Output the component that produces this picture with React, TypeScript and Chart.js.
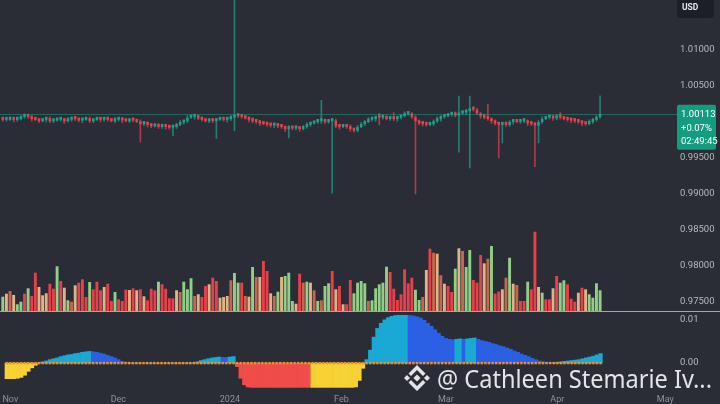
import React, { useEffect, useRef } from 'react';
import { Chart, registerables } from 'chart.js';

Chart.register(...registerables);

// ---------------- data ----------------
const START_DATE = '2023-10-31';
const AXIS_ORIGIN = '2023-11-01';

const firstOpen = 1.0004;
const closes = [
  1.0003, 1.0003, 1.0004, 1.0003, 1.0004, 1.0007, 1.0008, 1.0007, 1.0004, 1.0003,
  1.0001, 1.0003, 1.0004, 1.0001, 1.0002, 1.0003, 1.0004, 1.0001, 1.0003, 1.0005,
  1.0004, 1.0002, 1.0003, 1.0004, 1.0001, 1.0003, 1.0004, 1.0003, 1.0005, 1.0003,
  1.0001, 1.0003, 1.0004, 1.0002, 1.0001, 1.0003, 1.0002, 1.0000, 0.9997, 0.9998,
  0.9996, 0.9994, 0.9996, 0.9993, 0.9994, 0.9993, 0.9992, 0.9993, 0.9996, 0.9999,
  1.0001, 1.0006, 1.0007, 1.0008, 1.0005, 1.0003, 1.0001, 1.0002, 1.0001, 1.0003,
  1.0004, 1.0003, 1.0004, 1.0006, 1.0009, 1.0008, 1.0007, 1.0005, 1.0003, 1.0001,
  1.0000, 0.9998, 0.9997, 0.9996, 0.9995, 0.9996, 0.9994, 0.9993, 0.9990, 0.9992,
  0.9991, 0.9992, 0.9990, 0.9993, 0.9996, 0.9998, 1.0000, 1.0001, 1.0002, 1.0000,
  1.0001, 1.0002, 0.9994, 0.9993, 0.9994, 0.9993, 0.9990, 0.9988, 0.9993, 0.9997,
  1.0000, 1.0003, 1.0004, 1.0007, 1.0006, 1.0007, 1.0004, 1.0005, 1.0004, 1.0006,
  1.0008, 1.0011, 1.0012, 1.0007, 1.0001, 0.9998, 0.9997, 0.9996, 0.9997, 1.0001,
  1.0004, 1.0007, 1.0008, 1.0010, 1.0011, 1.0009, 1.0012, 1.0013, 1.0015, 1.0019,
  1.0017, 1.0012, 1.0008, 1.0006, 1.0004, 1.0001, 0.9998, 0.9996, 0.9997, 0.9996,
  1.0000, 1.0001, 1.0000, 1.0001, 1.0002, 0.9998, 0.9997, 0.9995, 1.0000, 1.0004,
  1.0006, 1.0007, 1.0005, 1.0007, 1.0006, 1.0004, 1.0003, 1.0002, 1.0001, 1.0000,
  0.9998, 0.9997, 1.0000, 1.0003, 1.0007, 1.00113,
];

// wick lengths beyond the body, in pips (0.0001)
const wickUp = [
  2, 1, 3, 2, 1, 2, 3, 1, 2, 2,
  1, 2, 2, 3, 1, 2, 2, 1, 3, 2,
  2, 1, 2, 2, 3, 1, 2, 2, 1, 2,
  2, 3, 1, 2, 2, 1, 2, 2, 3, 1,
  2, 2, 1, 2, 3, 1, 2, 2, 2, 3,
  2, 3, 2, 1, 2, 2, 1, 2, 3, 2,
  2, 1, 2, 3, 180, 2, 1, 2, 2, 3,
  1, 2, 2, 3, 1, 2, 2, 1, 2, 3,
  2, 1, 2, 2, 3, 2, 1, 2, 28, 2,
  1, 3, 2, 1, 2, 2, 3, 1, 2, 2,
  2, 3, 2, 1, 5, 2, 2, 1, 8, 2,
  2, 3, 2, 1, 2, 2, 3, 1, 2, 2,
  3, 2, 1, 2, 2, 3, 24, 2, 2, 17,
  2, 2, 1, 3, 18, 2, 2, 1, 2, 3,
  2, 1, 2, 2, 3, 1, 2, 2, 2, 3,
  2, 2, 1, 3, 6, 2, 1, 2, 3, 2,
  2, 1, 3, 2, 2, 25,
];
const wickDown = [
  2, 2, 1, 3, 2, 1, 2, 2, 3, 1,
  2, 1, 3, 2, 2, 1, 2, 3, 1, 2,
  2, 2, 3, 1, 2, 2, 1, 3, 2, 2,
  1, 2, 2, 3, 1, 2, 2, 1, 25, 2,
  3, 2, 1, 2, 2, 3, 2, 11, 2, 1,
  2, 2, 1, 3, 2, 2, 1, 2, 2, 24,
  1, 2, 3, 2, 18, 2, 2, 1, 3, 2,
  2, 3, 1, 2, 2, 3, 2, 2, 3, 12,
  2, 2, 3, 1, 2, 2, 1, 2, 3, 2,
  2, 100, 2, 3, 1, 2, 3, 2, 2, 1,
  2, 1, 2, 3, 10, 2, 1, 2, 2, 3,
  2, 1, 2, 2, 101, 2, 3, 2, 1, 2,
  2, 3, 2, 1, 2, 2, 51, 2, 3, 79,
  2, 1, 3, 2, 2, 3, 2, 46, 25, 2,
  2, 3, 1, 2, 2, 3, 2, 57, 24, 2,
  1, 2, 3, 2, 2, 1, 2, 3, 2, 2,
  3, 2, 1, 2, 2, 2,
];

const volumes = [
  143, 173, 200, 160, 67, 93, 173, 227, 150, 383,
  240, 157, 177, 273, 223, 447, 300, 233, 107, 93,
  257, 283, 317, 140, 290, 217, 293, 207, 240, 273,
  100, 190, 117, 100, 213, 210, 227, 207, 217, 147,
  107, 223, 207, 293, 267, 223, 127, 127, 207, 190,
  293, 217, 327, 150, 167, 140, 250, 267, 333, 300,
  133, 140, 150, 307, 380, 283,
  283, 150, 143, 440, 340, 340, 500, 400, 177, 150,
  193, 340, 350, 383, 100, 73, 373, 283, 293, 283,
  207, 100, 107, 250, 277, 400, 217, 250, 67, 67,
  310, 177, 283, 300, 277, 100, 107, 227, 267, 283,
  443, 390, 223, 110, 167, 417, 277, 333, 213, 110,
  140, 410, 623, 583, 573, 357, 273, 250, 190, 423,
  627, 600, 440, 610, 310, 283,
  560, 477, 523, 650, 173, 193, 217, 333, 533, 273,
  260, 100, 100, 293, 217, 793, 240, 183, 117, 117,
  227, 350, 283, 307, 267, 123, 93, 183, 233, 217,
  167, 133, 277, 207,
];
// g = green, t = tan, b = brown, r = red
const volumeTones =
  'gtbtggrgrr' + 'tttrrgrtgb' + 'trrrgrrrtr' + 'rgrrrtrtrt' + 'rrrgrrrrtb' + 'gggbtrrtrr' + 'tttbgg' +
  'rbtgbtrrtb' + 'gtgggtrbgt' + 'bgbggrtrtr' + 'rggggbgggg' + 'grrrrrrrgg' + 'btrbtbtrrg' + 'tbggrr' +
  'rtbgrrtbgt' + 'brrgrrtgrr' + 'trggrrrtrt' + 'gggg';

const oscValues = [
  -0.0036, -0.0036, -0.0036, -0.0035, -0.0033, -0.0028, -0.0019, -0.0011, -0.0005,
  0.0001, 0.0003, 0.0005, 0.0008, 0.0010, 0.0012, 0.0015, 0.0017, 0.0019, 0.0020, 0.0022, 0.0023, 0.0025, 0.0026, 0.0027,
  0.0026, 0.0025, 0.0023, 0.0021, 0.0018, 0.0015, 0.0012, 0.0008, 0.0004, 0.0002, 0.0001,
  0, 0, 0, 0, 0, 0, 0, 0, 0, 0, 0, 0, 0, 0, 0, 0, 0,
  0.0001, 0.0003, 0.0006, 0.0008, 0.0010, 0.0012, 0.0013, 0.0014, 0.0013, 0.0013, 0.0014, 0.0015,
  -0.0008, -0.0035, -0.0050, -0.0055, -0.0056, -0.0056, -0.0056, -0.0056, -0.0056, -0.0056, -0.0056,
  -0.0056, -0.0056, -0.0056, -0.0056, -0.0056, -0.0056, -0.0056, -0.0056, -0.0056, -0.0056,
  -0.0056, -0.0056, -0.0056, -0.0056, -0.0056, -0.0056, -0.0056, -0.0056, -0.0056, -0.0056, -0.0056, -0.0056,
  -0.0055, -0.0040, -0.0012,
  0.0008, 0.0030, 0.0060, 0.0080, 0.0092, 0.0100, 0.0105, 0.0108, 0.0110, 0.0111, 0.0111, 0.0111,
  0.0110, 0.0109, 0.0107, 0.0104, 0.0099, 0.0092, 0.0085, 0.0077, 0.0069, 0.0062, 0.0057, 0.0055, 0.0054,
  0.0055, 0.0056, 0.0055, 0.0056, 0.0057, 0.0058,
  0.0055, 0.0052, 0.0050, 0.0048, 0.0045, 0.0043, 0.0040, 0.0038, 0.0035, 0.0032, 0.0028,
  0.0025, 0.0021, 0.0018, 0.0015, 0.0011, 0.0008, 0.0005, 0.0003, 0.0002, 0.0001,
  0.0001, 0.0002, 0.0003, 0.0004, 0.0005, 0.0006, 0.0007, 0.0008, 0.0010, 0.0012, 0.0014, 0.0016, 0.0019, 0.0022,
];
// Y = yellow, C = cyan, B = blue, R = red (run lengths)
const oscToneRuns: [string, number][] = [
  ['Y', 9], ['C', 15], ['B', 11], ['C', 17], ['C', 8], ['B', 2], ['C', 2], ['R', 21], ['Y', 15],
  ['C', 12], ['B', 13], ['C', 2], ['B', 1], ['C', 3], ['B', 21], ['C', 14],
];

const priceTicks = [0.975, 0.98, 0.985, 0.99, 0.995, 1.0, 1.005, 1.01];
const oscTicks = [0, 0.01];
const monthTicks: [string, string][] = [
  ['Nov', '2023-11-01'], ['Dec', '2023-12-01'], ['2024', '2024-01-01'], ['Feb', '2024-02-01'],
  ['Mar', '2024-03-01'], ['Apr', '2024-04-01'], ['May', '2024-05-01'],
];
const lastPriceLines = ['1.00113', '+0.07%', '02:49:45'];
const currencyLabel = 'USD';
const watermarkText = '@ Cathleen Stemarie Iv...';

// ---------------- view settings ----------------
const BG = '#2a2d36';
const X_MIN = -1.77;
const X_MAX = 184.97;
const AXIS_W = 44;
const UP = '#22a08a';
const DOWN = '#e0444f';
const VOL_COL: Record<string, string> = { g: '#91cf88', t: '#e0b386', b: '#c6664f', r: '#e6404b' };
const OSC_COL: Record<string, string> = { Y: '#f6d233', C: '#1aa9d4', B: '#2b60e4', R: '#f04c4a' };
const LABEL_COL = '#b6b9c0';
const FONT = 'Roboto, "Noto Sans", sans-serif';

const DAY = 86400000;
const dayOf = (s: string) => (Date.parse(s) - Date.parse(AXIS_ORIGIN)) / DAY;
const startDay = dayOf(START_DATE);
const days = closes.map((_, i) => startDay + i);
const opens = closes.map((_, i) => (i === 0 ? firstOpen : closes[i - 1]));
const highs = closes.map((c, i) => Math.max(c, opens[i]) + wickUp[i] * 0.0001);
const lows = closes.map((c, i) => Math.min(c, opens[i]) - wickDown[i] * 0.0001);
const isUp = closes.map((c, i) => c >= opens[i]);
const oscTones = oscToneRuns.map(([k, n]) => k.repeat(n)).join('');

const fitRight = (scale: any) => {
  scale.width = AXIS_W;
  scale.paddingTop = 0;
  scale.paddingBottom = 0;
};

function drawLogo(ctx: CanvasRenderingContext2D, cx: number, cy: number) {
  const diamond = (x: number, y: number, r: number) => {
    ctx.beginPath();
    ctx.moveTo(x, y - r);
    ctx.lineTo(x + r, y);
    ctx.lineTo(x, y + r);
    ctx.lineTo(x - r, y);
    ctx.closePath();
    ctx.fill();
  };
  diamond(cx, cy, 3.6);
  diamond(cx - 10, cy, 3);
  diamond(cx + 10, cy, 3);
  for (const s of [-1, 1]) {
    ctx.beginPath();
    ctx.moveTo(cx, cy + s * 13);
    ctx.lineTo(cx + 8.5, cy + s * 4.5);
    ctx.lineTo(cx + 6, cy + s * 2);
    ctx.lineTo(cx, cy + s * 8);
    ctx.lineTo(cx - 6, cy + s * 2);
    ctx.lineTo(cx - 8.5, cy + s * 4.5);
    ctx.closePath();
    ctx.fill();
  }
}

export default function App() {
  const topRef = useRef<HTMLCanvasElement>(null);
  const botRef = useRef<HTMLCanvasElement>(null);

  useEffect(() => {
    const overlayTop = {
      id: 'overlayTop',
      afterDraw(chart: any) {
        const { ctx, chartArea, scales } = chart;
        const yPix = scales.y.getPixelForValue(closes[closes.length - 1]);
        ctx.save();
        // last price line
        ctx.strokeStyle = 'rgba(34,160,138,0.5)';
        ctx.lineWidth = 1;
        ctx.beginPath();
        ctx.moveTo(0, Math.round(yPix) + 0.5);
        ctx.lineTo(chartArea.right + 2, Math.round(yPix) + 0.5);
        ctx.stroke();
        // last price box
        const bx = chartArea.right + 1;
        ctx.fillStyle = '#149c80';
        ctx.beginPath();
        ctx.roundRect(bx, yPix - 9, 39, 45, 2);
        ctx.fill();
        ctx.fillStyle = '#ffffff';
        ctx.font = `9.5px ${FONT}`;
        ctx.textBaseline = 'middle';
        ctx.textAlign = 'left';
        lastPriceLines.forEach((t, k) => ctx.fillText(t, bx + 4, yPix + 1 + k * 13.5));
        // currency box
        ctx.fillStyle = '#1c1f27';
        ctx.beginPath();
        ctx.roundRect(chartArea.right + 1, -3, 37, 21, 3);
        ctx.fill();
        ctx.fillStyle = '#e6e7ea';
        ctx.font = `bold 8.5px ${FONT}`;
        ctx.fillText(currencyLabel, chartArea.right + 6, 8);
        ctx.restore();
      },
    };

    const overlayBottom = {
      id: 'overlayBottom',
      afterDraw(chart: any) {
        const { ctx } = chart;
        ctx.save();
        ctx.strokeStyle = '#a3a6ae';
        ctx.lineWidth = 1;
        ctx.beginPath();
        ctx.moveTo(0, 0.5);
        ctx.lineTo(chart.width, 0.5);
        ctx.stroke();
        // watermark
        ctx.fillStyle = 'rgba(238,238,240,0.95)';
        drawLogo(ctx, 417, 67);
        ctx.font = `26px "Noto Sans", "Open Sans", sans-serif`;
        const w = ctx.measureText(watermarkText).width;
        ctx.translate(437, 77);
        ctx.scale(275 / w, 1);
        ctx.textBaseline = 'alphabetic';
        ctx.textAlign = 'left';
        ctx.fillText(watermarkText, 0, 0);
        ctx.restore();
      },
    };

    const xScale = {
      type: 'linear',
      min: X_MIN,
      max: X_MAX,
      offset: false,
    };

    const top = new Chart(topRef.current!, {
      type: 'bar',
      data: {
        datasets: [
          {
            label: 'Volume',
            yAxisID: 'yv',
            data: days.map((d, i) => ({ x: d, y: volumes[i] })),
            backgroundColor: volumeTones.split('').map((k) => VOL_COL[k]),
            barPercentage: 0.8,
            categoryPercentage: 1,
            grouped: false,
            order: 3,
          },
          {
            label: 'Wick',
            yAxisID: 'y',
            data: days.map((d, i) => ({ x: d, y: [lows[i], highs[i]] })),
            backgroundColor: isUp.map((u) => (u ? 'rgba(34,160,138,0.7)' : 'rgba(224,68,79,0.7)')),
            barThickness: 1,
            grouped: false,
            order: 2,
          },
          {
            label: 'Body',
            yAxisID: 'y',
            data: days.map((d, i) => ({ x: d, y: [opens[i], closes[i]] })),
            backgroundColor: isUp.map((u) => (u ? UP : DOWN)),
            barPercentage: 0.7,
            categoryPercentage: 1,
            minBarLength: 3,
            grouped: false,
            order: 1,
          },
        ] as any,
      },
      options: {
        animation: false,
        responsive: false,
        events: [],
        layout: { padding: 0 },
        plugins: { legend: { display: false }, tooltip: { enabled: false } },
        scales: {
          x: { ...xScale, display: false } as any,
          y: {
            position: 'right',
            min: 0.97375,
            max: 1.01694,
            grid: { display: false, drawTicks: false },
            border: { display: false },
            afterBuildTicks: (s: any) => {
              s.ticks = priceTicks.map((v) => ({ value: v }));
            },
            afterFit: fitRight,
            ticks: {
              padding: 4,
              color: LABEL_COL,
              font: { size: 9.5, family: FONT },
              callback: (v: any) => Number(v).toFixed(5),
            },
          },
          yv: { display: false, min: 0, max: 3110 },
        },
      },
      plugins: [overlayTop],
    } as any);

    const bottom = new Chart(botRef.current!, {
      type: 'bar',
      data: {
        datasets: [
          {
            label: 'Momentum',
            data: days.map((d, i) => ({ x: d, y: oscValues[i] })),
            backgroundColor: oscTones.split('').map((k) => OSC_COL[k]),
            barPercentage: 1,
            categoryPercentage: 1,
            grouped: false,
            order: 2,
          },
          {
            type: 'scatter',
            label: 'Squeeze',
            data: days.map((d) => ({ x: d, y: 0 })),
            pointStyle: 'rect',
            pointRadius: 1.7,
            backgroundColor: '#ef8f2a',
            borderWidth: 0,
            order: 1,
          },
        ] as any,
      },
      options: {
        animation: false,
        responsive: false,
        events: [],
        layout: { padding: { top: 1, left: 0, right: 0, bottom: 0 } },
        plugins: { legend: { display: false }, tooltip: { enabled: false } },
        scales: {
          x: {
            ...xScale,
            position: 'bottom',
            grid: { display: false, drawTicks: false },
            border: { display: false },
            afterBuildTicks: (s: any) => {
              s.ticks = monthTicks.map(([, d]) => ({ value: dayOf(d) }));
            },
            afterFit: (s: any) => {
              s.height = 13;
              s.paddingLeft = 0;
              s.paddingRight = 0;
            },
            ticks: {
              padding: 3,
              maxRotation: 0,
              autoSkip: false,
              color: '#8e919a',
              font: { size: 9, family: FONT },
              callback: (v: any) => {
                const m = monthTicks.find(([, d]) => dayOf(d) === v);
                return m ? m[0] : '';
              },
            },
          } as any,
          y: {
            position: 'right',
            min: -0.00644,
            max: 0.01111,
            grid: { display: false, drawTicks: false },
            border: { display: false },
            afterBuildTicks: (s: any) => {
              s.ticks = oscTicks.map((v) => ({ value: v }));
            },
            afterFit: fitRight,
            ticks: {
              padding: 4,
              color: LABEL_COL,
              font: { size: 9.5, family: FONT },
              callback: (v: any) => Number(v).toFixed(2),
            },
          },
        },
      },
      plugins: [overlayBottom],
    } as any);

    return () => {
      top.destroy();
      bottom.destroy();
    };
  }, []);

  return (
    <div
      style={{
        position: 'fixed',
        left: 0,
        top: 0,
        width: 720,
        height: 404,
        background: BG,
        overflow: 'hidden',
      }}
    >
      <canvas ref={topRef} width={720} height={311} style={{ position: 'absolute', left: 0, top: 0, display: 'block' }} />
      <canvas ref={botRef} width={720} height={93} style={{ position: 'absolute', left: 0, top: 311, display: 'block' }} />
    </div>
  );
}
